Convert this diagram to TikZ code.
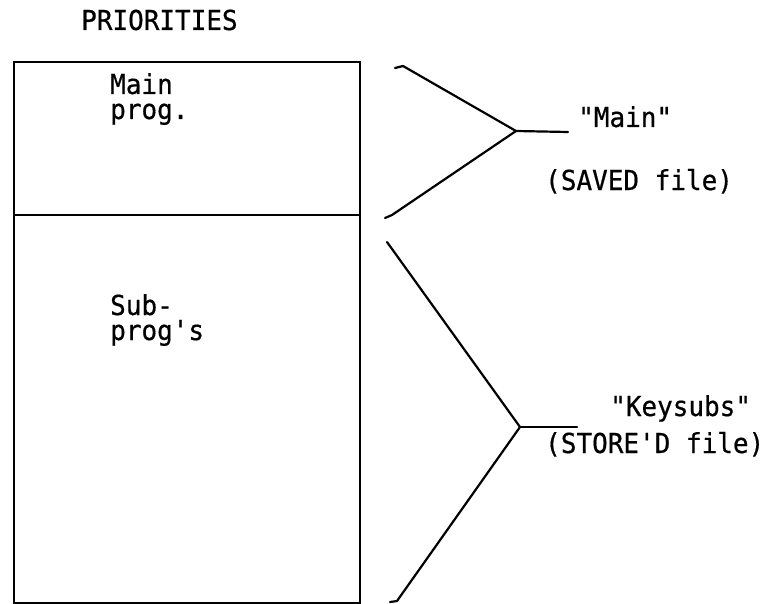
\documentclass[tikz,border=0pt]{standalone}
\usepackage{fontspec}
\setmonofont[FakeStretch=0.945,FakeBold=0.6]{DejaVu Sans Mono}
\begin{document}
\begin{tikzpicture}[x=1pt,y=-1pt,
  txt/.style={font=\ttfamily\fontsize{27.5}{27.5}\selectfont, inner sep=0pt, anchor=base west},
  boxpart/.style={draw, line width=2pt, inner sep=0pt},
  brace/.style={line width=2.2pt, line cap=round, line join=round}]
\useasboundingbox (0,0) rectangle (770,604);
% boxes
\node[boxpart, minimum width=346pt, minimum height=153pt, anchor=north west] (mainbox) at (13,61) {};
\node[boxpart, minimum width=346pt, minimum height=388pt, anchor=north west] (subbox) at (13,214) {};
% texts
\node[txt] (prio) at (81,30) {PRIORITIES};
\node[txt] (main1) at (110,94) {Main};
\node[txt] (main2) at (110,119) {prog.};
\node[txt] (sub1) at (110,315) {Sub-};
\node[txt] (sub2) at (110,340) {prog's};
\node[txt] (mainq) at (578,127) {"Main"};
\node[txt] (saved) at (545,190) {(SAVED file)};
\node[txt] (keysq) at (610,416) {"Keysubs"};
\node[txt] (stored) at (545,453) {(STORE'D file)};
% upper brace
\coordinate (ua) at (395,68);
\coordinate (ub) at (403,66);
\coordinate (uv) at (516,131);
\coordinate (us) at (568,132);
\coordinate (uc) at (392,215);
\coordinate (ud) at (385,218);
\draw[brace] (ua) -- (ub) -- (uv) -- (uc) -- (ud);
\draw[brace] (uv) -- (us);
% lower brace
\coordinate (la) at (387,242);
\coordinate (lv) at (520,427);
\coordinate (ls) at (577,427);
\coordinate (lc) at (397,601);
\coordinate (ld) at (390,602);
\draw[brace] (la) -- (lv) -- (lc) -- (ld);
\draw[brace] (lv) -- (ls);
\end{tikzpicture}
\end{document}
